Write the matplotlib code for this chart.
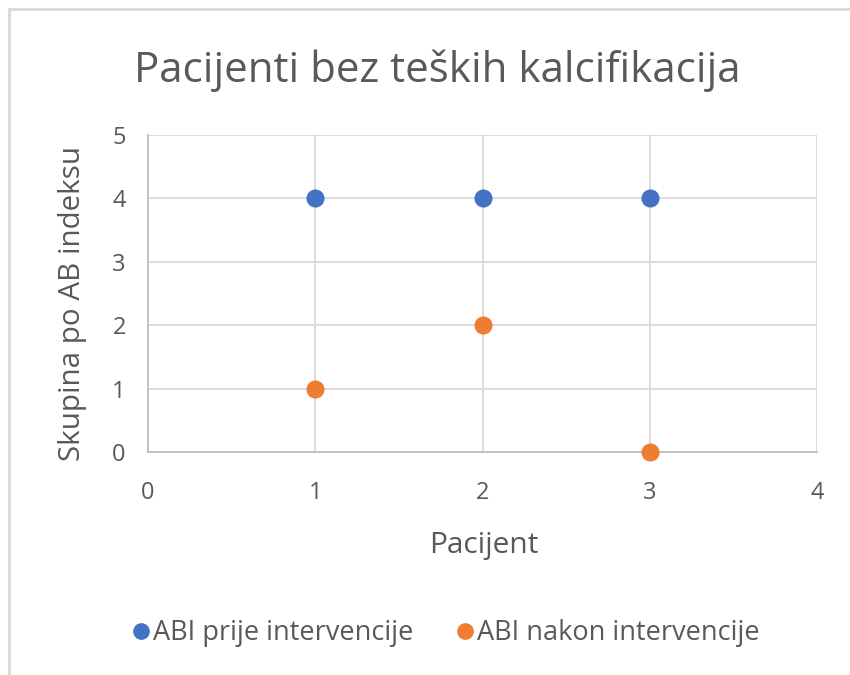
import matplotlib
matplotlib.use("Agg")
import matplotlib.pyplot as plt
from matplotlib.lines import Line2D
from matplotlib.patches import Rectangle

plt.rcParams['font.family'] = ['Open Sans', 'DejaVu Sans']

patients = [1, 2, 3]
abi_before = [4, 4, 4]
abi_after = [1, 2, 0]
series_names = ["ABI prije intervencije", "ABI nakon intervencije"]
title = "Pacijenti bez teških kalcifikacija"
xlabel = "Pacijent"
ylabel = "Skupina po AB indeksu"

text_col = "#595959"
blue = "#4472C4"
orange = "#ED7D31"

W, H = 850, 675
fig = plt.figure(figsize=(8.5, 6.75), dpi=100)
fig.patches.append(Rectangle((9/W, -0.1), 1.2, 1.1 - 9/H, transform=fig.transFigure,
                             fill=False, edgecolor="#D9D9D9", linewidth=2))
ax = fig.add_axes([148/W, (H-452)/H, (817-148)/W, (452-135)/H])

ax.plot(patients, abi_before, 'o', color=blue, markersize=12, label=series_names[0], zorder=3, clip_on=False)
ax.plot(patients, abi_after, 'o', color=orange, markersize=12, label=series_names[1], zorder=3, clip_on=False)

ax.set_xlim(0, 4)
ax.set_ylim(0, 5)
ax.set_xticks(range(0, 5))
ax.set_yticks(range(0, 6))
ax.grid(True, color="#D9D9D9", linewidth=1.3)
ax.set_axisbelow(True)
for s in ['top', 'right']:
    ax.spines[s].set_visible(False)
for s in ['left', 'bottom']:
    ax.spines[s].set_color("#BFBFBF")
    ax.spines[s].set_linewidth(1.3)
ax.tick_params(length=0, labelsize=17, colors=text_col)
ax.tick_params(axis='y', pad=16)
ax.tick_params(axis='x', pad=21)

fig.text(484/W, 1 - 553/H, xlabel, fontsize=21.5, color=text_col, ha='center', va='baseline')
fig.text(73/W, 1 - 304/H, ylabel, fontsize=21.3, color=text_col, ha='center', va='center', rotation=90)
fig.text(437/W, 1 - 82/H, title, fontsize=30.3, color=text_col, ha='center', va='baseline')

handles = [Line2D([], [], marker='o', linestyle='', color=blue, markersize=11),
           Line2D([], [], marker='o', linestyle='', color=orange, markersize=11)]
fig.legend(handles, series_names, loc='center', bbox_to_anchor=(445/W, 1 - 633/H),
           ncol=2, frameon=False, fontsize=19.5, labelcolor=text_col,
           handletextpad=0.05, columnspacing=1.5, handlelength=0.8)

fig.savefig("out.png", dpi=100)
